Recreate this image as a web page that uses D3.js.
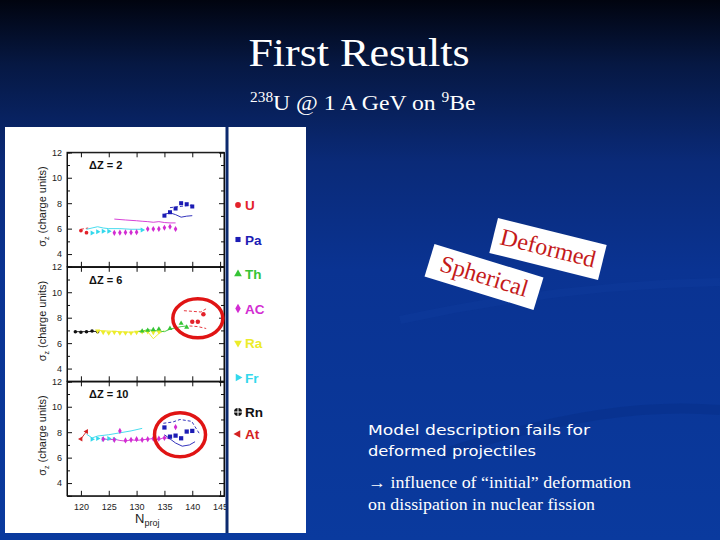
<!DOCTYPE html>
<html><head><meta charset="utf-8">
<script src="https://cdn.jsdelivr.net/npm/d3@7"></script>
<style>html,body{margin:0;padding:0;background:#000}svg{display:block}</style>
</head><body>
<svg id="c" width="720" height="540"></svg>
<script>
// ---------- DATA ----------
const panelTitles = ["ΔZ = 2", "ΔZ = 6", "ΔZ = 10"];
const yTicks = [4, 6, 8, 10, 12];
const yMinor = [5, 7, 9, 11];
const xTicks = [120, 125, 130, 135, 140, 145];
const legendNames = ["U", "Pa", "Th", "AC", "Ra", "Fr", "Rn", "At"];
const legendColors = ["#e3222a", "#1c1cb4", "#35c435", "#d22cd2", "#ecec2a", "#33d8ec", "#111111", "#d42222"];

// ΔZ = 2
const dz2_U_N = [120, 121], dz2_U_v = [5.85, 5.68];
const dz2_Ul_N = [120, 121.3], dz2_Ul_v = [5.95, 6.05];
const dz2_Fr_N = [122, 123, 124, 125, 131], dz2_Fr_v = [5.65, 5.75, 5.8, 5.8, 5.9];
const dz2_Frl_N = [121, 122, 123, 124, 125, 127, 129, 131], dz2_Frl_v = [5.95, 6.05, 6.15, 6.05, 6.0, 6.0, 5.95, 5.95];
const dz2_AC_N = [126, 127, 128, 129, 130, 132, 133, 134, 135, 136, 137];
const dz2_AC_v = [5.67, 5.68, 5.7, 5.7, 5.72, 5.97, 5.97, 5.98, 6.07, 6.15, 5.97];
const dz2_ACl_N = [126, 128, 130, 131, 132, 133, 134, 135, 136, 137];
const dz2_ACl_v = [6.75, 6.68, 6.62, 6.58, 6.55, 6.5, 6.55, 6.48, 6.45, 6.45];
const dz2_Pa_N = [135, 136, 137, 138, 139, 140], dz2_Pa_v = [7.02, 7.29, 7.58, 8.0, 7.92, 7.74];
const dz2_Pal_N = [135, 136, 137, 138, 139, 140], dz2_Pal_v = [7.13, 7.24, 7.1, 6.9, 6.98, 7.02];
const dz2_Pau_N = [136, 137, 138, 139, 140], dz2_Pau_v = [7.65, 7.7, 7.75, 7.8, 7.85];

// ΔZ = 6
const dz6_Rn_N = [119, 120, 121, 122, 123], dz6_Rn_v = [6.9, 6.85, 6.9, 6.95, 6.9];
const dz6_Rnl_v = [6.9, 6.9, 6.9, 6.92, 6.92];
const dz6_Ra_N = [123, 124, 125, 126, 127, 128, 129, 130, 131, 132, 133, 134];
const dz6_Ra_v = [6.95, 6.85, 6.8, 6.85, 6.8, 6.8, 6.8, 6.85, 6.9, 6.9, 6.85, 6.9];
const dz6_Ral_N = [123, 125, 127, 129, 131, 132, 133, 134, 135], dz6_Ral_v = [7.0, 6.95, 6.9, 6.85, 6.95, 6.9, 6.35, 6.75, 7.0];
const dz6_Th_N = [131, 132, 133, 134, 136, 138, 139], dz6_Th_v = [6.95, 7.0, 7.05, 7.1, 7.15, 7.55, 7.25];
const dz6_Thl_N = [130, 131, 132, 133, 134, 135, 136, 137, 138, 139];
const dz6_Thl_v = [6.9, 6.95, 7.05, 7.0, 6.95, 6.9, 7.1, 7.2, 7.3, 7.35];
const dz6_U_N = [140, 141, 142], dz6_U_v = [7.69, 7.69, 8.27];
const dz6_Uu_N = [138.5, 140, 141.5, 142.5], dz6_Uu_v = [8.55, 8.5, 8.45, 8.7];
const dz6_Ul_N = [139.5, 141, 142.5], dz6_Ul_v = [7.35, 7.3, 7.15];

// ΔZ = 10
const dz10_At_N = [120, 121], dz10_At_v = [7.47, 8.05];
const dz10_Fr_N = [122, 123, 124, 125, 126], dz10_Fr_v = [7.45, 7.5, 7.45, 7.5, 7.45];
const dz10_Frl_N = [121, 122, 123, 125, 127, 129, 131], dz10_Frl_v = [7.85, 7.55, 7.7, 7.8, 7.95, 8.1, 8.3];
const dz10_AC_N = [124, 126, 127, 128, 129, 130, 131, 132, 133, 134, 135, 137];
const dz10_AC_v = [7.45, 7.4, 8.1, 7.35, 7.4, 7.45, 7.4, 7.45, 7.5, 7.5, 7.55, 8.4];
const dz10_ACl_N = [124, 125, 126, 127, 128, 129, 130, 131, 132, 133, 134, 135, 136];
const dz10_ACl_v = [7.5, 7.4, 7.45, 7.35, 7.3, 7.4, 7.35, 7.4, 7.45, 7.5, 7.4, 7.6, 7.45];
const dz10_Pa_N = [135, 136, 137, 138, 139, 140], dz10_Pa_v = [8.37, 7.65, 7.73, 7.52, 8.05, 8.1];
const dz10_Pau_N = [134.8, 136.5, 137.8, 139.9, 141.4], dz10_Pau_v = [8.7, 8.8, 9.0, 8.85, 7.8];
const dz10_Pal_N = [135, 137, 138.2, 139.5, 140.5], dz10_Pal_v = [7.8, 7.15, 6.9, 7.0, 7.25];

// ---------- DRAW ----------
const svg = d3.select("#c");
const defs = svg.append("defs");
const g = defs.append("linearGradient").attr("id", "bg").attr("x1", 0).attr("y1", 0).attr("x2", 0).attr("y2", 1);
[[0, "#01040f"], [0.12, "#061843"], [0.3, "#0a2a78"], [0.5, "#0a3392"], [1, "#0a3a9e"]].forEach(s =>
  g.append("stop").attr("offset", s[0]).attr("stop-color", s[1]));
svg.append("rect").attr("width", 720).attr("height", 540).attr("fill", "url(#bg)");
// faint swooshes
svg.append("path").attr("d", "M400,320 Q560,285 720,282").attr("fill", "none").attr("stroke", "#1a48b0").attr("stroke-width", 8).attr("opacity", 0.15);
svg.append("path").attr("d", "M440,455 Q600,400 720,410").attr("fill", "none").attr("stroke", "#062c80").attr("stroke-width", 10).attr("opacity", 0.35);

// Title
svg.append("g").attr("transform", "translate(359,66) scale(1.1,1)").append("text").attr("text-anchor", "middle")
  .attr("font-family", "Liberation Serif, Times New Roman, serif").attr("font-size", 40).attr("fill", "#fff").text("First Results");
const sub = svg.append("g").attr("transform", "translate(250,110) scale(1.1,1)").append("text")
  .attr("font-family", "Liberation Serif, Times New Roman, serif").attr("font-size", 21.5).attr("fill", "#fff");
sub.append("tspan").attr("font-size", 14).attr("dy", -8).text("238");
sub.append("tspan").attr("dy", 8).text("U @ 1 A GeV on ");
sub.append("tspan").attr("font-size", 14).attr("dy", -8).text("9");
sub.append("tspan").attr("dy", 8).text("Be");

// White panel
svg.append("rect").attr("x", 5).attr("y", 127).attr("width", 301).attr("height", 406).attr("fill", "#fff");

const x = d3.scaleLinear().domain([117.5, 145.7]).range([67, 224]);
const panelTops = [152.3, 266.8, 381.3];
const ph = 114.5;
const yScales = panelTops.map(t => d3.scaleLinear().domain([3, 12]).range([t + ph, t]));
const tickFont = "Liberation Sans Narrow, Arial Narrow, Liberation Sans, sans-serif";

panelTops.forEach((t, i) => {
  const y = yScales[i];
  const ax = svg.append("g");
  ax.append("g").attr("transform", `translate(67,0)`).call(d3.axisLeft(y).tickValues(yTicks).tickSize(-5).tickPadding(5).tickFormat(d3.format("d")));
  ax.append("g").attr("transform", `translate(67,0)`).call(d3.axisLeft(y).tickValues(yMinor).tickSize(-3).tickFormat(""));
  ax.append("g").attr("transform", `translate(224,0)`).call(d3.axisRight(y).tickValues(yTicks).tickSize(-5).tickFormat(""));
  ax.append("g").attr("transform", `translate(224,0)`).call(d3.axisRight(y).tickValues(yMinor).tickSize(-3).tickFormat(""));
  ax.append("g").attr("transform", `translate(0,${t})`).call(d3.axisTop(x).tickValues(xTicks).tickSize(-5).tickFormat(""));
  ax.append("g").attr("transform", `translate(0,${t + ph})`).call(d3.axisBottom(x).tickValues(xTicks).tickSize(-5).tickPadding(8).tickFormat(i === 2 ? d3.format("d") : ""));
  ax.selectAll(".domain").attr("stroke", "#111");
  ax.selectAll(".tick line").attr("stroke", "#111");
  ax.selectAll("text").attr("font-family", tickFont).attr("font-size", 9).attr("fill", "#222");
  ax.append("rect").attr("x", 67).attr("y", t).attr("width", 157).attr("height", ph).attr("fill", "none").attr("stroke", "#111").attr("stroke-width", 1);
  svg.append("text").attr("x", 89).attr("y", t + 17).attr("font-family", "Liberation Sans, Arial, sans-serif")
    .attr("font-weight", "bold").attr("font-size", 11).attr("fill", "#111").text(panelTitles[i]);
  const yl = svg.append("text").attr("transform", `translate(46,${t + ph / 2 - 3}) rotate(-90)`).attr("text-anchor", "middle")
    .attr("font-family", "Liberation Sans, Arial, sans-serif").attr("font-size", 11).attr("fill", "#222");
  yl.append("tspan").text("σ");
  yl.append("tspan").attr("font-size", 7).attr("dy", 3).text("z");
  yl.append("tspan").attr("dy", -3).text(" (charge units)");
});
const xl = svg.append("text").attr("x", 135).attr("y", 523).attr("font-family", "Liberation Sans, Arial, sans-serif").attr("font-size", 13).attr("fill", "#222");
xl.append("tspan").text("N");
xl.append("tspan").attr("font-size", 9).attr("dy", 3).text("proj");

// Symbols
const symFor = {
  U: { t: d3.symbolCircle, r: 0 }, Pa: { t: d3.symbolSquare, r: 0 }, Th: { t: d3.symbolTriangle, r: 0 },
  AC: { t: d3.symbolDiamond, r: 0 }, Ra: { t: d3.symbolTriangle, r: 180 }, Fr: { t: d3.symbolTriangle, r: 90 },
  Rn: { t: d3.symbolCircle, r: 0 }, At: { t: d3.symbolTriangle, r: -90 }
};
const colorOf = n => legendColors[legendNames.indexOf(n)];
function pts(panel, name, Ns, vs, size) {
  const y = yScales[panel];
  const s = symFor[name];
  svg.append("g").selectAll("path").data(Ns.map((n, k) => [n, vs[k]])).join("path")
    .attr("d", d3.symbol().type(s.t).size(size || 11))
    .attr("transform", d => `translate(${x(d[0])},${y(d[1])}) rotate(${s.r})`)
    .attr("fill", colorOf(name));
}
function line(panel, name, Ns, vs, dash) {
  const y = yScales[panel];
  svg.append("path").datum(Ns.map((n, k) => [n, vs[k]]))
    .attr("d", d3.line().x(d => x(d[0])).y(d => y(d[1])))
    .attr("fill", "none").attr("stroke", colorOf(name)).attr("stroke-width", 0.9)
    .attr("stroke-dasharray", dash ? "3,2" : null);
}
// ΔZ=2
line(0, "U", dz2_Ul_N, dz2_Ul_v, true);
line(0, "Fr", dz2_Frl_N, dz2_Frl_v);
line(0, "AC", dz2_ACl_N, dz2_ACl_v);
line(0, "Pa", dz2_Pal_N, dz2_Pal_v);
line(0, "Pa", dz2_Pau_N, dz2_Pau_v, true);
pts(0, "U", dz2_U_N, dz2_U_v);
pts(0, "Fr", dz2_Fr_N, dz2_Fr_v);
pts(0, "AC", dz2_AC_N, dz2_AC_v);
pts(0, "Pa", dz2_Pa_N, dz2_Pa_v, 16);
// ΔZ=6
line(1, "Rn", dz6_Rn_N, dz6_Rnl_v);
line(1, "Ra", dz6_Ral_N, dz6_Ral_v);
line(1, "Th", dz6_Thl_N, dz6_Thl_v);
line(1, "U", dz6_Uu_N, dz6_Uu_v, true);
line(1, "U", dz6_Ul_N, dz6_Ul_v, true);
pts(1, "Rn", dz6_Rn_N, dz6_Rn_v, 10);
pts(1, "Ra", dz6_Ra_N, dz6_Ra_v);
pts(1, "Th", dz6_Th_N, dz6_Th_v);
pts(1, "U", dz6_U_N, dz6_U_v, 16);
// ΔZ=10
line(2, "At", dz10_At_N, dz10_At_v);
line(2, "Fr", dz10_Frl_N, dz10_Frl_v);
line(2, "AC", dz10_ACl_N, dz10_ACl_v);
line(2, "Pa", dz10_Pau_N, dz10_Pau_v, true);
line(2, "Pa", dz10_Pal_N, dz10_Pal_v);
pts(2, "At", dz10_At_N, dz10_At_v);
pts(2, "Fr", dz10_Fr_N, dz10_Fr_v);
pts(2, "AC", dz10_AC_N, dz10_AC_v);
pts(2, "Pa", dz10_Pa_N, dz10_Pa_v, 18);

// Red annotation ellipses (around deformed-nuclei points)
const e1y = yScales[1], e2y = yScales[2];
svg.append("ellipse").attr("cx", x(141)).attr("cy", e1y(7.95)).attr("rx", 25).attr("ry", 19.5)
  .attr("fill", "none").attr("stroke", "#e01414").attr("stroke-width", 3.5);
svg.append("ellipse").attr("cx", x(137.8)).attr("cy", e2y(7.8)).attr("rx", 25.5).attr("ry", 22)
  .attr("fill", "none").attr("stroke", "#e01414").attr("stroke-width", 3.5);

// Separator and legend
svg.append("line").attr("x1", 227).attr("x2", 227).attr("y1", 127).attr("y2", 533).attr("stroke", "#0c2a6e").attr("stroke-width", 3);
const legY = legendNames.map((n, i) => i < 7 ? 205 + i * 34.5 : 434);
legendNames.forEach((n, i) => {
  const s = symFor[n];
  const c = legendColors[i];
  if (n === "Rn") {
    svg.append("circle").attr("cx", 238).attr("cy", legY[i]).attr("r", 4).attr("fill", "#111");
    svg.append("path").attr("d", `M234,${legY[i]}h8M238,${legY[i] - 4}v8`).attr("stroke", "#fff").attr("stroke-width", 1);
  } else {
    svg.append("path").attr("d", d3.symbol().type(s.t).size(26))
      .attr("transform", `translate(238,${legY[i]}) rotate(${s.r})`).attr("fill", c);
  }
  svg.append("text").attr("x", 245).attr("y", legY[i] + 5).attr("font-family", "Liberation Sans, Arial, sans-serif")
    .attr("font-weight", "bold").attr("font-size", 13.5).attr("fill", c).text(n);
});

// Rotated labels
function tag(cx, cy, ang, w, h, txt) {
  const gg = svg.append("g").attr("transform", `translate(${cx},${cy}) rotate(${ang})`);
  gg.append("rect").attr("x", -w / 2).attr("y", -h / 2).attr("width", w).attr("height", h).attr("fill", "#fff");
  gg.append("text").attr("text-anchor", "middle").attr("y", 7).attr("font-family", "Liberation Serif, Times New Roman, serif")
    .attr("font-size", 24).attr("fill", "#c41a1a").text(txt);
}
tag(548, 249, 14, 112, 36, "Deformed");
tag(484, 277, 17, 114, 34, "Spherical");

// Body text
const comic = "DejaVu Sans, sans-serif";
svg.append("text").attr("x", 368).attr("y", 435).attr("font-family", comic).attr("font-size", 14.5).attr("fill", "#fff")
  .attr("textLength", 222).attr("lengthAdjust", "spacingAndGlyphs").text("Model description fails for");
svg.append("text").attr("x", 368).attr("y", 456).attr("font-family", comic).attr("font-size", 14.5).attr("fill", "#fff")
  .attr("textLength", 168).attr("lengthAdjust", "spacingAndGlyphs").text("deformed projectiles");
svg.append("text").attr("x", 368).attr("y", 488).attr("font-family", "Liberation Serif, Times New Roman, serif").attr("font-size", 16.5).attr("fill", "#fff")
  .attr("textLength", 263).attr("lengthAdjust", "spacingAndGlyphs").text("→ influence of “initial” deformation");
svg.append("text").attr("x", 368).attr("y", 510).attr("font-family", "Liberation Serif, Times New Roman, serif").attr("font-size", 16.5).attr("fill", "#fff")
  .attr("textLength", 227).attr("lengthAdjust", "spacingAndGlyphs").text("on dissipation in nuclear fission");
</script>
</body></html>
